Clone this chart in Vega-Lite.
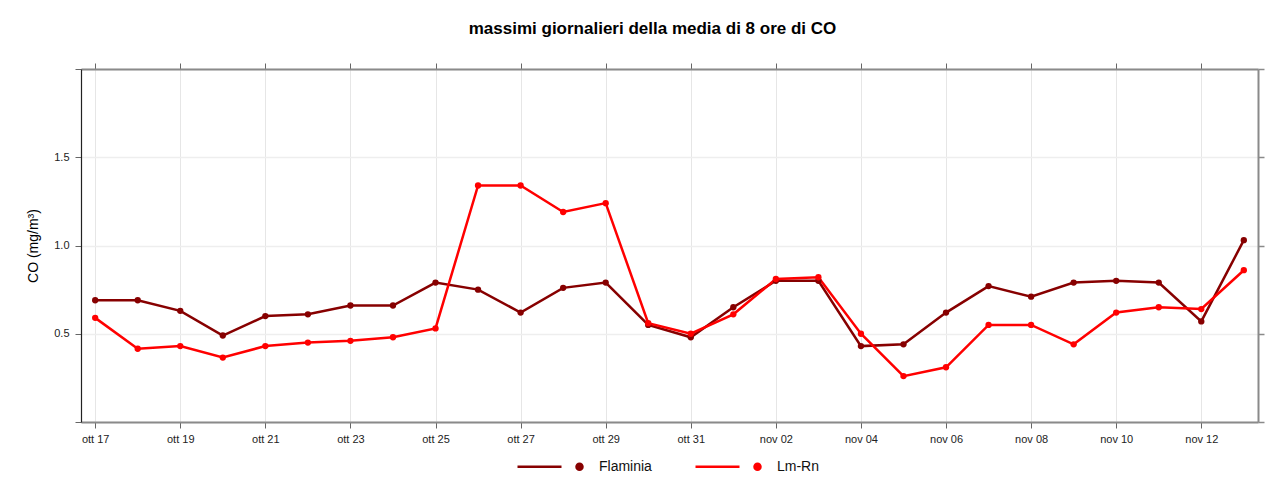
{
  "$schema": "https://vega.github.io/schema/vega-lite/v6.json",
  "width": 1177,
  "height": 353,
  "autosize": {"type": "none"},
  "padding": {"left": 81, "top": 69, "right": 26, "bottom": 60},
  "background": "white",
  "title": {
    "text": "massimi giornalieri della media di 8 ore di CO",
    "anchor": "middle",
    "font": "Liberation Sans",
    "fontSize": 17,
    "fontWeight": "bold",
    "color": "#000000",
    "offset": 25,
    "dx": -17
  },
  "config": {
    "font": "Liberation Sans",
    "view": {"stroke": null}
  },
  "data": {
    "format": {"parse": {"date": "utc:'%Y-%m-%d'"}},
    "values": [
      {"date": "2023-10-17", "station": "Flaminia", "co": 0.69},
      {"date": "2023-10-18", "station": "Flaminia", "co": 0.69},
      {"date": "2023-10-19", "station": "Flaminia", "co": 0.63},
      {"date": "2023-10-20", "station": "Flaminia", "co": 0.49},
      {"date": "2023-10-21", "station": "Flaminia", "co": 0.60},
      {"date": "2023-10-22", "station": "Flaminia", "co": 0.61},
      {"date": "2023-10-23", "station": "Flaminia", "co": 0.66},
      {"date": "2023-10-24", "station": "Flaminia", "co": 0.66},
      {"date": "2023-10-25", "station": "Flaminia", "co": 0.79},
      {"date": "2023-10-26", "station": "Flaminia", "co": 0.75},
      {"date": "2023-10-27", "station": "Flaminia", "co": 0.62},
      {"date": "2023-10-28", "station": "Flaminia", "co": 0.76},
      {"date": "2023-10-29", "station": "Flaminia", "co": 0.79},
      {"date": "2023-10-30", "station": "Flaminia", "co": 0.55},
      {"date": "2023-10-31", "station": "Flaminia", "co": 0.48},
      {"date": "2023-11-01", "station": "Flaminia", "co": 0.65},
      {"date": "2023-11-02", "station": "Flaminia", "co": 0.80},
      {"date": "2023-11-03", "station": "Flaminia", "co": 0.80},
      {"date": "2023-11-04", "station": "Flaminia", "co": 0.43},
      {"date": "2023-11-05", "station": "Flaminia", "co": 0.44},
      {"date": "2023-11-06", "station": "Flaminia", "co": 0.62},
      {"date": "2023-11-07", "station": "Flaminia", "co": 0.77},
      {"date": "2023-11-08", "station": "Flaminia", "co": 0.71},
      {"date": "2023-11-09", "station": "Flaminia", "co": 0.79},
      {"date": "2023-11-10", "station": "Flaminia", "co": 0.80},
      {"date": "2023-11-11", "station": "Flaminia", "co": 0.79},
      {"date": "2023-11-12", "station": "Flaminia", "co": 0.57},
      {"date": "2023-11-13", "station": "Flaminia", "co": 1.03},
      {"date": "2023-10-17", "station": "Lm-Rn", "co": 0.59},
      {"date": "2023-10-18", "station": "Lm-Rn", "co": 0.415},
      {"date": "2023-10-19", "station": "Lm-Rn", "co": 0.43},
      {"date": "2023-10-20", "station": "Lm-Rn", "co": 0.365},
      {"date": "2023-10-21", "station": "Lm-Rn", "co": 0.43},
      {"date": "2023-10-22", "station": "Lm-Rn", "co": 0.45},
      {"date": "2023-10-23", "station": "Lm-Rn", "co": 0.46},
      {"date": "2023-10-24", "station": "Lm-Rn", "co": 0.48},
      {"date": "2023-10-25", "station": "Lm-Rn", "co": 0.53},
      {"date": "2023-10-26", "station": "Lm-Rn", "co": 1.34},
      {"date": "2023-10-27", "station": "Lm-Rn", "co": 1.34},
      {"date": "2023-10-28", "station": "Lm-Rn", "co": 1.19},
      {"date": "2023-10-29", "station": "Lm-Rn", "co": 1.24},
      {"date": "2023-10-30", "station": "Lm-Rn", "co": 0.56},
      {"date": "2023-10-31", "station": "Lm-Rn", "co": 0.50},
      {"date": "2023-11-01", "station": "Lm-Rn", "co": 0.61},
      {"date": "2023-11-02", "station": "Lm-Rn", "co": 0.81},
      {"date": "2023-11-03", "station": "Lm-Rn", "co": 0.82},
      {"date": "2023-11-04", "station": "Lm-Rn", "co": 0.50},
      {"date": "2023-11-05", "station": "Lm-Rn", "co": 0.26},
      {"date": "2023-11-06", "station": "Lm-Rn", "co": 0.31},
      {"date": "2023-11-07", "station": "Lm-Rn", "co": 0.55},
      {"date": "2023-11-08", "station": "Lm-Rn", "co": 0.55},
      {"date": "2023-11-09", "station": "Lm-Rn", "co": 0.44},
      {"date": "2023-11-10", "station": "Lm-Rn", "co": 0.62},
      {"date": "2023-11-11", "station": "Lm-Rn", "co": 0.65},
      {"date": "2023-11-12", "station": "Lm-Rn", "co": 0.64},
      {"date": "2023-11-13", "station": "Lm-Rn", "co": 0.86}
    ]
  },
  "resolve": {"axis": {"x": "independent", "y": "independent"}},
  "layer": [
    {
      "mark": {"type": "line", "strokeWidth": 2.5},
      "encoding": {
        "x": {
          "field": "date",
          "type": "temporal",
          "scale": {
            "type": "utc",
            "domain": [
              {"year": 2023, "month": 10, "date": 16, "hours": 16, "utc": true},
              {"year": 2023, "month": 11, "date": 13, "hours": 8, "utc": true}
            ]
          },
          "axis": {
            "orient": "bottom",
            "title": null,
            "values": [
              {"year": 2023, "month": 10, "date": 17, "utc": true},
              {"year": 2023, "month": 10, "date": 19, "utc": true},
              {"year": 2023, "month": 10, "date": 21, "utc": true},
              {"year": 2023, "month": 10, "date": 23, "utc": true},
              {"year": 2023, "month": 10, "date": 25, "utc": true},
              {"year": 2023, "month": 10, "date": 27, "utc": true},
              {"year": 2023, "month": 10, "date": 29, "utc": true},
              {"year": 2023, "month": 10, "date": 31, "utc": true},
              {"year": 2023, "month": 11, "date": 2, "utc": true},
              {"year": 2023, "month": 11, "date": 4, "utc": true},
              {"year": 2023, "month": 11, "date": 6, "utc": true},
              {"year": 2023, "month": 11, "date": 8, "utc": true},
              {"year": 2023, "month": 11, "date": 10, "utc": true},
              {"year": 2023, "month": 11, "date": 12, "utc": true}
            ],
            "labelExpr": "(utcmonth(datum.value) == 9 ? 'ott ' : 'nov ') + utcFormat(datum.value, '%d')",
            "labelFont": "Liberation Sans",
            "labelFontSize": 11,
            "labelColor": "#222222",
            "labelPadding": 5,
            "labelFlush": false,
            "labelOverlap": false,
            "domainColor": "#8a8a8a",
            "domainWidth": 2,
            "tickColor": "#666666",
            "tickSize": 6,
            "tickWidth": 1,
            "grid": true,
            "gridColor": "#e6e6e6",
            "gridWidth": 1
          }
        },
        "y": {
          "field": "co",
          "type": "quantitative",
          "scale": {"domain": [0, 2], "nice": false, "zero": false},
          "axis": {
            "orient": "left",
            "title": "CO (mg/m³)",
            "titleFont": "Liberation Sans",
            "titleFontSize": 14,
            "titleFontWeight": "normal",
            "titleColor": "#000000",
            "titlePadding": 13,
            "values": [0, 0.5, 1, 1.5, 2],
            "labelExpr": "datum.value == 0 || datum.value == 2 ? '' : format(datum.value, '.1f')",
            "labelFont": "Liberation Sans",
            "labelFontSize": 11,
            "labelColor": "#222222",
            "labelPadding": 6,
            "domainColor": "#222222",
            "domainWidth": 1.2,
            "tickColor": "#666666",
            "tickSize": 6,
            "tickWidth": 1,
            "grid": true,
            "gridColor": "#eeeeee",
            "gridWidth": 1.5
          }
        },
        "color": {
          "field": "station",
          "type": "nominal",
          "scale": {"domain": ["Flaminia", "Lm-Rn"], "range": ["#870000", "#ff0000"]},
          "legend": {
            "title": null,
            "orient": "none",
            "direction": "horizontal",
            "legendX": 467,
            "legendY": 376,
            "padding": 0,
            "symbolType": "M-2.6,0H-0.4M0.35,0A0.15,0.15 0 1,0 0.65,0A0.15,0.15 0 1,0 0.35,0Z",
            "symbolSize": 1600,
            "symbolStrokeWidth": 2.5,
            "symbolOpacity": 1,
            "labelOffset": 8,
            "labelFont": "Liberation Sans",
            "labelFontSize": 14,
            "labelColor": "#111111",
            "columnPadding": 38,
            "encode": {
              "symbols": {
                "update": {
                  "fill": {"scale": "color", "field": "value"},
                  "stroke": {"scale": "color", "field": "value"}
                }
              }
            }
          }
        }
      }
    },
    {
      "mark": {"type": "point", "filled": true, "size": 40, "opacity": 1},
      "encoding": {
        "x": {
          "field": "date",
          "type": "temporal",
          "axis": {
            "orient": "top",
            "title": null,
            "labels": false,
            "values": [
              {"year": 2023, "month": 10, "date": 17, "utc": true},
              {"year": 2023, "month": 10, "date": 19, "utc": true},
              {"year": 2023, "month": 10, "date": 21, "utc": true},
              {"year": 2023, "month": 10, "date": 23, "utc": true},
              {"year": 2023, "month": 10, "date": 25, "utc": true},
              {"year": 2023, "month": 10, "date": 27, "utc": true},
              {"year": 2023, "month": 10, "date": 29, "utc": true},
              {"year": 2023, "month": 10, "date": 31, "utc": true},
              {"year": 2023, "month": 11, "date": 2, "utc": true},
              {"year": 2023, "month": 11, "date": 4, "utc": true},
              {"year": 2023, "month": 11, "date": 6, "utc": true},
              {"year": 2023, "month": 11, "date": 8, "utc": true},
              {"year": 2023, "month": 11, "date": 10, "utc": true},
              {"year": 2023, "month": 11, "date": 12, "utc": true}
            ],
            "domainColor": "#8a8a8a",
            "domainWidth": 2,
            "tickColor": "#666666",
            "tickSize": 6,
            "tickWidth": 1,
            "grid": false
          }
        },
        "y": {
          "field": "co",
          "type": "quantitative",
          "axis": {
            "orient": "right",
            "title": null,
            "labels": false,
            "values": [0, 0.5, 1, 1.5, 2],
            "domainColor": "#8a8a8a",
            "domainWidth": 2,
            "tickColor": "#8a8a8a",
            "tickSize": 6,
            "tickWidth": 1.5,
            "grid": false
          }
        },
        "color": {
          "field": "station",
          "type": "nominal"
        }
      }
    }
  ]
}
